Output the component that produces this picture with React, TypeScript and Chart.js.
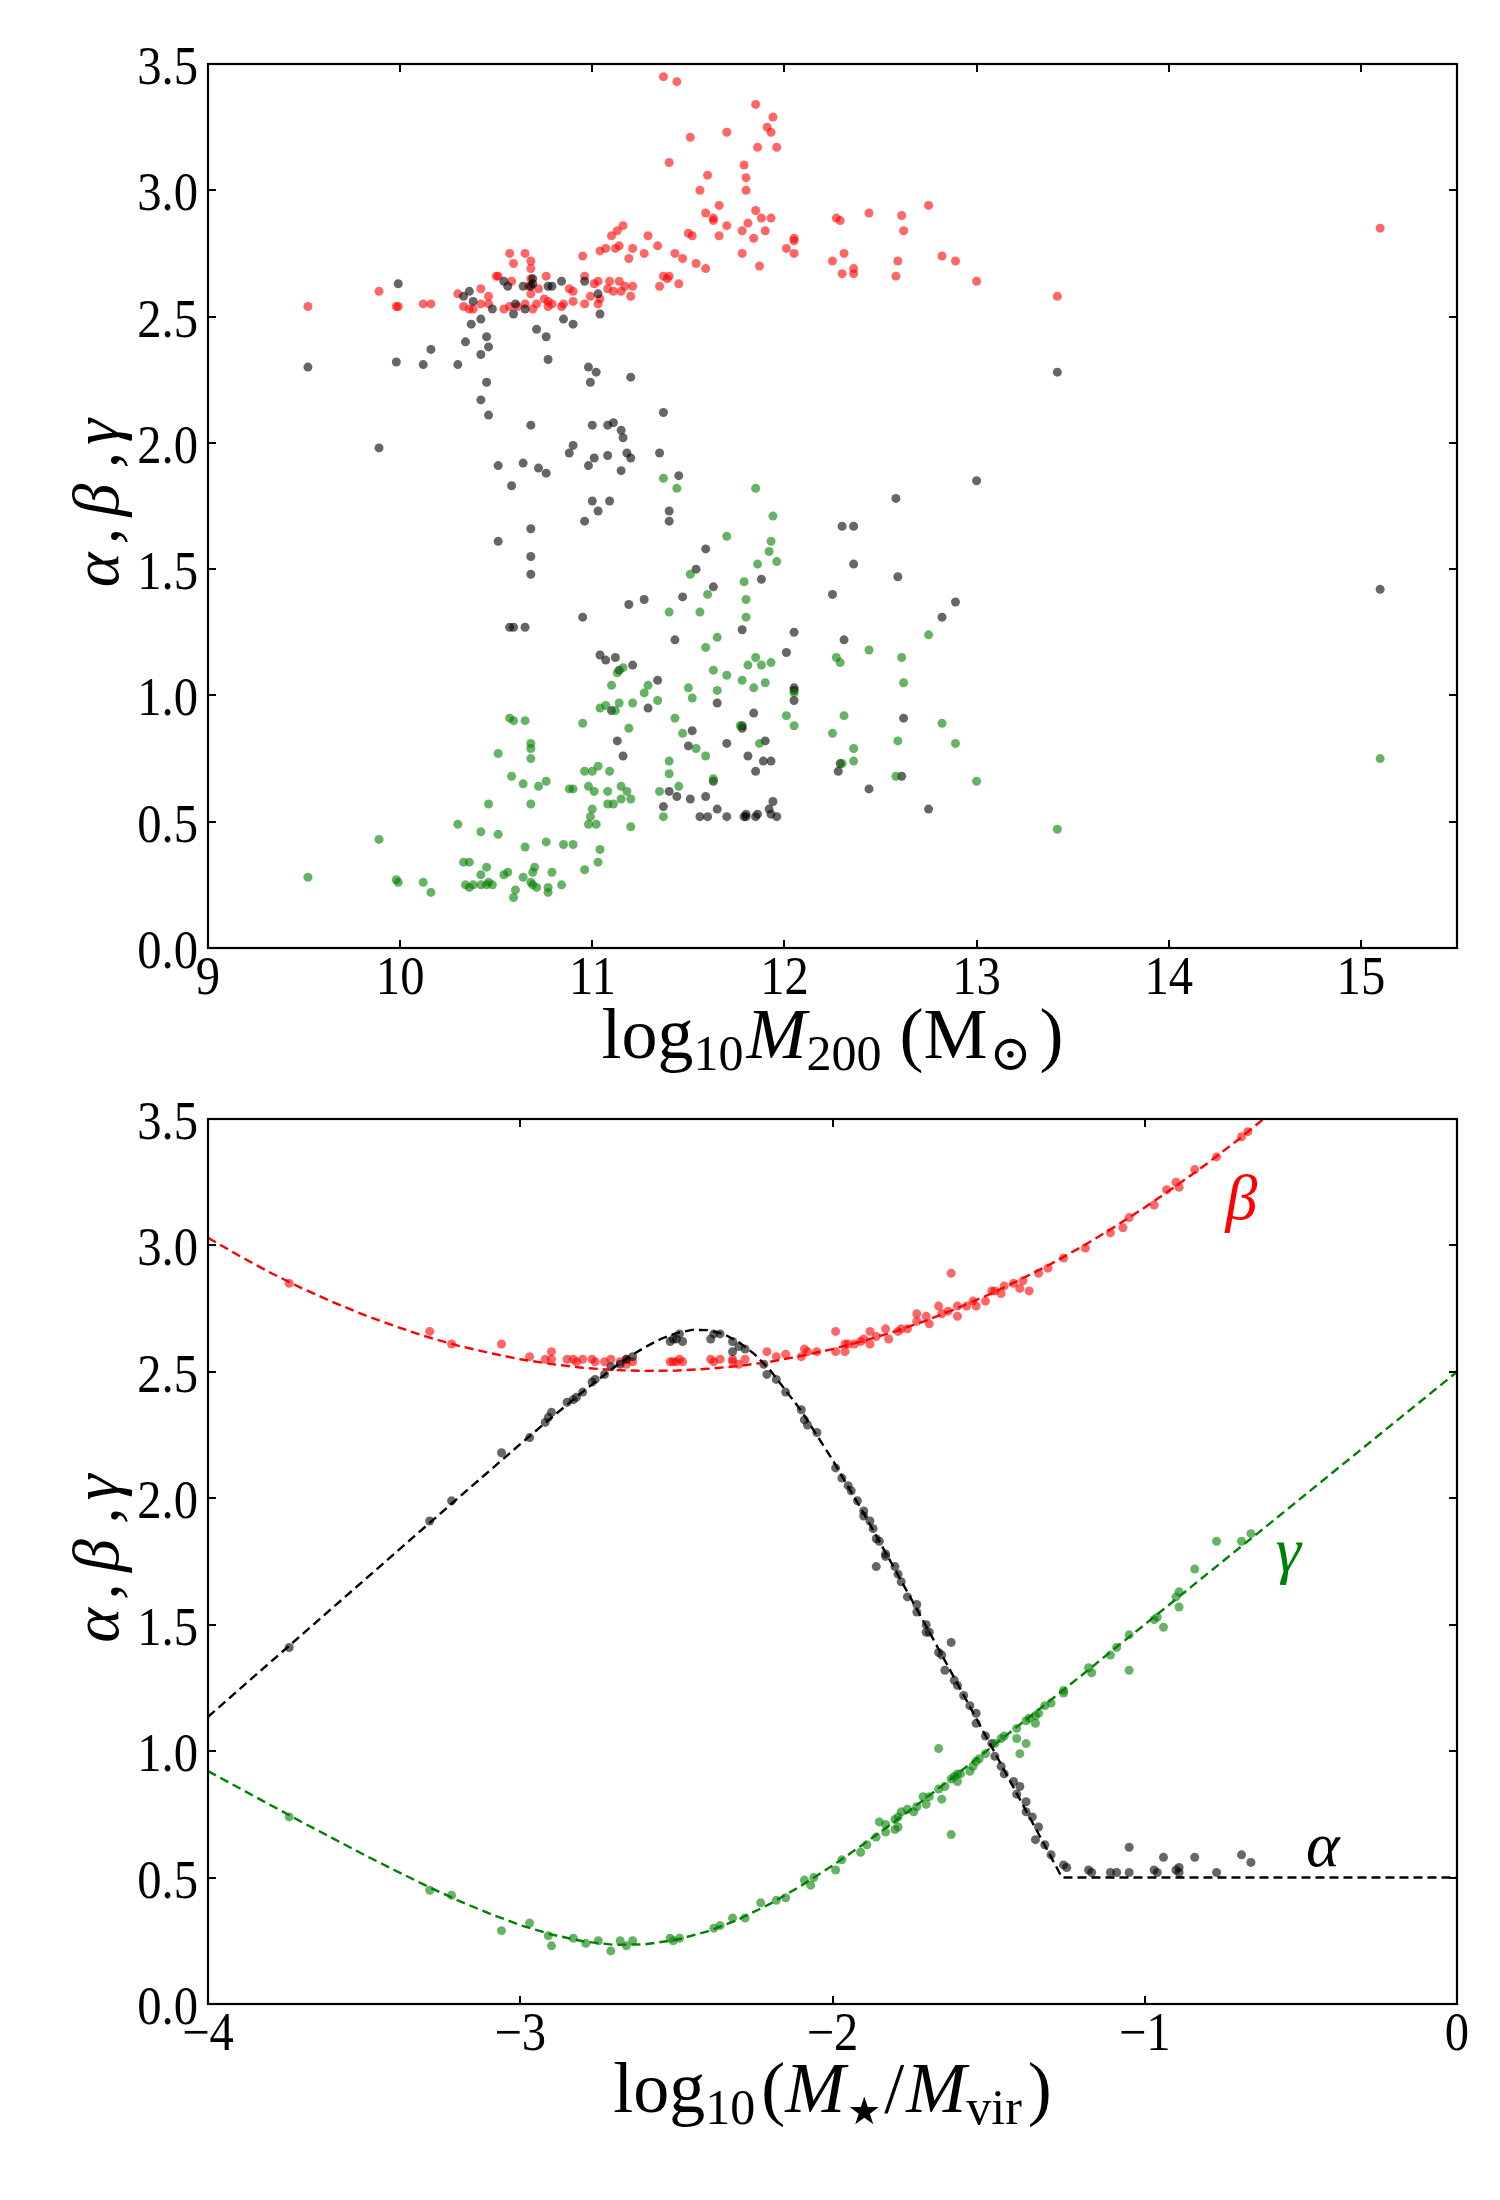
import React, { useEffect, useRef } from 'react';
import { Chart, registerables } from 'chart.js';

Chart.register(...registerables);

type Pt = [number, number];

// ---- axes ----
const haloTicks = [9, 10, 11, 12, 13, 14, 15];
const haloTickLabels = ['9', '10', '11', '12', '13', '14', '15'];
const ratioTicks = [-4, -3, -2, -1, 0];
const ratioTickLabels = ['\u22124', '\u22123', '\u22122', '\u22121', '0'];
const slopeTicks = [0, 0.5, 1, 1.5, 2, 2.5, 3, 3.5];
const slopeTickLabels = ['0.0', '0.5', '1.0', '1.5', '2.0', '2.5', '3.0', '3.5'];

// ---- top panel: slopes vs log10 M200 ----
const haloBeta: Pt[] = [
  [9.52, 2.54], [9.89, 2.60], [9.98, 2.54], [9.99, 2.54], [10.12, 2.55], [10.16, 2.55], [10.30, 2.59], [10.33, 2.54],
  [10.36, 2.53], [10.38, 2.53], [10.42, 2.55], [10.42, 2.61], [10.46, 2.55], [10.46, 2.58], [10.50, 2.66], [10.51, 2.66],
  [10.54, 2.53], [10.57, 2.54], [10.57, 2.75], [10.58, 2.64], [10.59, 2.71], [10.61, 2.54], [10.65, 2.55], [10.65, 2.75],
  [10.67, 2.62], [10.68, 2.72], [10.68, 2.69], [10.68, 2.65], [10.68, 2.59], [10.69, 2.53], [10.71, 2.55], [10.72, 2.61],
  [10.75, 2.57], [10.76, 2.66], [10.77, 2.56], [10.77, 2.54], [10.79, 2.55], [10.84, 2.54], [10.85, 2.55], [10.88, 2.61],
  [10.90, 2.60], [10.90, 2.56], [10.95, 2.74], [10.96, 2.66], [10.96, 2.55], [10.99, 2.58], [11.01, 2.63], [11.03, 2.64],
  [11.03, 2.55], [11.04, 2.57], [11.04, 2.76], [11.07, 2.77], [11.08, 2.61], [11.09, 2.64], [11.10, 2.82], [11.11, 2.60],
  [11.12, 2.77], [11.13, 2.84], [11.14, 2.64], [11.14, 2.78], [11.15, 2.60], [11.16, 2.86], [11.17, 2.62], [11.19, 2.73],
  [11.20, 2.58], [11.21, 2.62], [11.21, 2.77], [11.27, 2.75], [11.29, 2.82], [11.34, 2.78], [11.35, 2.62], [11.37, 2.66],
  [11.37, 3.45], [11.39, 2.65], [11.40, 2.66], [11.40, 3.11], [11.43, 2.75], [11.44, 3.43], [11.45, 2.63], [11.47, 2.73],
  [11.50, 2.83], [11.51, 3.21], [11.52, 2.82], [11.54, 2.71], [11.56, 3.00], [11.59, 2.91], [11.59, 2.69], [11.60, 3.06],
  [11.63, 2.89], [11.63, 2.88], [11.66, 2.94], [11.66, 2.82], [11.70, 3.23], [11.70, 2.86], [11.78, 2.84], [11.78, 2.75],
  [11.79, 3.10], [11.80, 3.05], [11.80, 3.00], [11.81, 2.87], [11.84, 2.81], [11.85, 3.34], [11.85, 2.92], [11.86, 3.17],
  [11.87, 2.70], [11.88, 2.89], [11.90, 2.84], [11.91, 3.25], [11.93, 3.23], [11.93, 2.89], [11.94, 3.29], [11.96, 3.17],
  [12.01, 2.77], [12.05, 2.81], [12.05, 2.80], [12.05, 2.75], [12.25, 2.72], [12.27, 2.89], [12.29, 2.88], [12.30, 2.67],
  [12.31, 2.75], [12.36, 2.69], [12.36, 2.67], [12.44, 2.91], [12.58, 2.66], [12.59, 2.72], [12.61, 2.90], [12.62, 2.84],
  [12.75, 2.94], [12.82, 2.74], [12.89, 2.72], [13.00, 2.64], [13.42, 2.58], [15.10, 2.85],
];

const haloAlpha: Pt[] = [
  [9.52, 2.30], [9.89, 1.98], [9.98, 2.32], [9.99, 2.63], [10.12, 2.31], [10.16, 2.37], [10.30, 2.31], [10.33, 2.58],
  [10.34, 2.40], [10.36, 2.60], [10.37, 2.47], [10.38, 2.56], [10.42, 2.49], [10.42, 2.35], [10.42, 2.17], [10.45, 2.42],
  [10.45, 2.24], [10.46, 2.38], [10.46, 2.11], [10.48, 2.53], [10.51, 1.91], [10.51, 1.61], [10.54, 2.64], [10.56, 2.62],
  [10.57, 1.27], [10.58, 1.83], [10.59, 2.51], [10.59, 1.27], [10.60, 2.55], [10.64, 2.62], [10.64, 1.92], [10.65, 2.53],
  [10.65, 1.27], [10.68, 2.62], [10.68, 2.07], [10.68, 1.66], [10.68, 1.55], [10.68, 1.48], [10.69, 2.65], [10.69, 2.63],
  [10.71, 2.45], [10.72, 1.90], [10.76, 2.42], [10.76, 1.88], [10.77, 2.62], [10.77, 2.33], [10.79, 2.62], [10.84, 2.64],
  [10.85, 2.49], [10.88, 1.96], [10.90, 2.47], [10.90, 1.99], [10.95, 1.31], [10.96, 2.64], [10.96, 1.69], [10.98, 2.30],
  [10.98, 1.91], [10.99, 2.24], [11.00, 2.07], [11.00, 1.77], [11.01, 1.94], [11.02, 2.28], [11.03, 2.59], [11.03, 1.73],
  [11.04, 2.51], [11.04, 1.16], [11.07, 1.14], [11.08, 2.07], [11.08, 1.95], [11.09, 1.77], [11.10, 0.94], [11.11, 2.08],
  [11.12, 1.15], [11.13, 0.82], [11.14, 1.10], [11.15, 2.05], [11.15, 1.89], [11.16, 2.02], [11.16, 0.76], [11.18, 1.96],
  [11.19, 1.36], [11.20, 2.26], [11.20, 1.94], [11.21, 1.12], [11.27, 1.38], [11.29, 0.95], [11.34, 1.06], [11.35, 1.96],
  [11.37, 2.12], [11.37, 0.56], [11.40, 1.73], [11.40, 1.69], [11.40, 0.62], [11.43, 1.22], [11.44, 0.60], [11.45, 1.87],
  [11.47, 1.39], [11.50, 0.80], [11.51, 0.59], [11.52, 0.86], [11.54, 1.50], [11.56, 0.52], [11.59, 1.58], [11.59, 0.60],
  [11.60, 0.52], [11.63, 1.43], [11.63, 0.66], [11.65, 0.97], [11.65, 0.55], [11.70, 0.81], [11.70, 0.52], [11.78, 1.26],
  [11.78, 0.88], [11.78, 0.87], [11.79, 0.52], [11.80, 0.53], [11.80, 0.52], [11.81, 0.76], [11.84, 0.93], [11.85, 0.70],
  [11.85, 0.52], [11.86, 0.53], [11.88, 1.46], [11.89, 0.74], [11.90, 0.82], [11.92, 0.55], [11.93, 0.74], [11.93, 0.53],
  [11.94, 0.58], [11.96, 0.52], [12.01, 1.17], [12.05, 1.25], [12.05, 1.03], [12.05, 1.02], [12.05, 0.98], [12.25, 1.40],
  [12.28, 0.70], [12.29, 0.73], [12.30, 1.67], [12.31, 1.22], [12.36, 1.67], [12.36, 1.52], [12.44, 0.63], [12.58, 1.78],
  [12.59, 1.47], [12.61, 0.68], [12.62, 0.91], [12.75, 0.55], [12.82, 1.31], [12.89, 1.37], [13.00, 1.85], [13.42, 2.28],
  [15.10, 1.42],
];

const haloGamma: Pt[] = [
  [9.52, 0.28], [9.89, 0.43], [9.98, 0.27], [9.99, 0.26], [10.12, 0.26], [10.16, 0.22], [10.30, 0.49], [10.33, 0.34],
  [10.34, 0.25], [10.36, 0.34], [10.36, 0.24], [10.38, 0.25], [10.42, 0.46], [10.42, 0.29], [10.42, 0.25], [10.45, 0.32],
  [10.45, 0.25], [10.46, 0.57], [10.46, 0.26], [10.48, 0.25], [10.51, 0.77], [10.51, 0.45], [10.54, 0.29], [10.56, 0.30],
  [10.57, 0.91], [10.58, 0.68], [10.59, 0.90], [10.59, 0.20], [10.60, 0.23], [10.64, 0.65], [10.64, 0.28], [10.65, 0.90],
  [10.65, 0.40], [10.68, 0.81], [10.68, 0.79], [10.68, 0.75], [10.68, 0.57], [10.68, 0.26], [10.69, 0.30], [10.69, 0.25],
  [10.70, 0.32], [10.71, 0.24], [10.72, 0.64], [10.76, 0.66], [10.76, 0.42], [10.77, 0.24], [10.77, 0.22], [10.79, 0.30],
  [10.84, 0.25], [10.85, 0.41], [10.88, 0.63], [10.90, 0.63], [10.90, 0.41], [10.95, 0.89], [10.96, 0.70], [10.96, 0.31],
  [10.98, 0.64], [10.98, 0.49], [10.99, 0.52], [11.00, 0.70], [11.00, 0.55], [11.01, 0.62], [11.02, 0.49], [11.03, 0.72],
  [11.03, 0.34], [11.04, 0.95], [11.04, 0.39], [11.07, 0.96], [11.08, 0.62], [11.08, 0.57], [11.09, 0.70], [11.10, 1.04],
  [11.11, 0.57], [11.12, 0.94], [11.13, 1.09], [11.14, 0.97], [11.15, 0.64], [11.15, 0.59], [11.16, 1.11], [11.18, 0.62],
  [11.19, 0.87], [11.20, 0.59], [11.20, 0.48], [11.21, 0.97], [11.27, 1.01], [11.29, 1.04], [11.34, 0.98], [11.35, 0.62],
  [11.37, 1.86], [11.37, 0.52], [11.40, 1.33], [11.40, 0.74], [11.40, 0.69], [11.43, 0.91], [11.44, 1.82], [11.45, 0.64],
  [11.47, 0.85], [11.50, 1.03], [11.51, 1.48], [11.52, 0.99], [11.54, 0.79], [11.56, 1.33], [11.59, 1.19], [11.59, 0.76],
  [11.60, 1.40], [11.63, 1.10], [11.63, 0.67], [11.65, 1.23], [11.65, 1.02], [11.70, 1.63], [11.70, 1.08], [11.77, 0.88],
  [11.78, 1.06], [11.79, 1.45], [11.80, 1.38], [11.80, 1.31], [11.81, 1.12], [11.84, 1.03], [11.85, 1.82], [11.85, 1.15],
  [11.86, 1.52], [11.87, 0.81], [11.88, 1.12], [11.90, 1.05], [11.92, 1.57], [11.93, 1.61], [11.93, 1.13], [11.94, 1.71],
  [11.96, 1.53], [12.01, 0.92], [12.05, 1.01], [12.05, 0.88], [12.25, 0.85], [12.27, 1.15], [12.29, 1.13], [12.30, 0.73],
  [12.31, 0.92], [12.36, 0.79], [12.36, 0.74], [12.44, 1.18], [12.58, 0.68], [12.59, 0.82], [12.61, 1.15], [12.62, 1.05],
  [12.75, 1.24], [12.82, 0.89], [12.89, 0.81], [13.00, 0.66], [13.42, 0.47], [15.10, 0.75],
];

// ---- bottom panel: slopes vs log10(M*/Mvir) ----
const ratioBeta: Pt[] = [
  [-3.74, 2.85], [-3.29, 2.66], [-3.22, 2.61], [-3.06, 2.61], [-2.97, 2.56], [-2.92, 2.55], [-2.90, 2.58], [-2.90, 2.55],
  [-2.85, 2.55], [-2.83, 2.55], [-2.82, 2.54], [-2.80, 2.55], [-2.77, 2.55], [-2.76, 2.54], [-2.73, 2.54], [-2.71, 2.55],
  [-2.68, 2.54], [-2.66, 2.55], [-2.66, 2.53], [-2.64, 2.54], [-2.52, 2.54], [-2.51, 2.54], [-2.50, 2.54], [-2.49, 2.55],
  [-2.48, 2.54], [-2.39, 2.55], [-2.38, 2.54], [-2.36, 2.55], [-2.32, 2.55], [-2.32, 2.54], [-2.30, 2.53], [-2.28, 2.55],
  [-2.21, 2.58], [-2.18, 2.56], [-2.15, 2.57], [-2.10, 2.56], [-2.09, 2.59], [-2.08, 2.58], [-2.05, 2.58], [-1.99, 2.66],
  [-1.99, 2.58], [-1.96, 2.61], [-1.96, 2.58], [-1.95, 2.61], [-1.93, 2.61], [-1.91, 2.62], [-1.90, 2.63], [-1.88, 2.66],
  [-1.88, 2.61], [-1.86, 2.64], [-1.83, 2.67], [-1.82, 2.63], [-1.79, 2.66], [-1.78, 2.67], [-1.76, 2.67], [-1.73, 2.73],
  [-1.73, 2.70], [-1.70, 2.72], [-1.69, 2.69], [-1.66, 2.76], [-1.65, 2.73], [-1.63, 2.74], [-1.62, 2.89], [-1.60, 2.72],
  [-1.60, 2.76], [-1.57, 2.76], [-1.55, 2.78], [-1.54, 2.76], [-1.51, 2.78], [-1.49, 2.82], [-1.46, 2.81], [-1.45, 2.84],
  [-1.48, 2.82], [-1.42, 2.85], [-1.40, 2.83], [-1.39, 2.86], [-1.37, 2.82], [-1.34, 2.89], [-1.31, 2.91], [-1.26, 2.95],
  [-1.19, 2.99], [-1.11, 3.05], [-1.07, 3.07], [-1.05, 3.11], [-0.97, 3.16], [-0.93, 3.22], [-0.90, 3.25], [-0.89, 3.23],
  [-0.84, 3.30], [-0.77, 3.35], [-0.69, 3.43], [-0.67, 3.45],
];

const ratioAlpha: Pt[] = [
  [-3.74, 1.41], [-3.29, 1.91], [-3.22, 1.99], [-3.06, 2.18], [-2.97, 2.24], [-2.92, 2.30], [-2.91, 2.32], [-2.90, 2.34],
  [-2.85, 2.38], [-2.83, 2.39], [-2.82, 2.40], [-2.80, 2.42], [-2.77, 2.46], [-2.76, 2.47], [-2.73, 2.49], [-2.71, 2.52],
  [-2.68, 2.53], [-2.66, 2.55], [-2.64, 2.56], [-2.52, 2.62], [-2.51, 2.63], [-2.50, 2.63], [-2.49, 2.65], [-2.48, 2.62],
  [-2.39, 2.63], [-2.38, 2.65], [-2.36, 2.65], [-2.32, 2.62], [-2.32, 2.58], [-2.30, 2.60], [-2.28, 2.59], [-2.22, 2.53],
  [-2.21, 2.49], [-2.18, 2.47], [-2.15, 2.42], [-2.10, 2.35], [-2.09, 2.31], [-2.08, 2.29], [-2.05, 2.26], [-1.99, 2.12],
  [-1.97, 2.08], [-1.95, 2.05], [-1.94, 2.03], [-1.92, 1.99], [-1.90, 1.95], [-1.90, 1.93], [-1.88, 1.91], [-1.87, 1.88],
  [-1.86, 1.84], [-1.83, 1.78], [-1.86, 1.73], [-1.80, 1.73], [-1.85, 1.83], [-1.83, 1.77], [-1.79, 1.70], [-1.78, 1.67],
  [-1.76, 1.61], [-1.73, 1.58], [-1.73, 1.55], [-1.70, 1.50], [-1.70, 1.47], [-1.69, 1.47], [-1.62, 1.43], [-1.66, 1.39],
  [-1.65, 1.38], [-1.64, 1.32], [-1.61, 1.28], [-1.60, 1.26], [-1.58, 1.22], [-1.56, 1.18], [-1.54, 1.15], [-1.54, 1.11],
  [-1.51, 1.06], [-1.49, 1.03], [-1.48, 0.98], [-1.46, 0.94], [-1.45, 0.91], [-1.42, 0.88], [-1.40, 0.86], [-1.41, 0.83],
  [-1.38, 0.80], [-1.38, 0.76], [-1.36, 0.74], [-1.34, 0.70], [-1.35, 0.65], [-1.32, 0.63], [-1.30, 0.59], [-1.26, 0.55],
  [-1.25, 0.54], [-1.18, 0.53], [-1.17, 0.52], [-1.11, 0.52], [-1.09, 0.52], [-1.05, 0.62], [-1.05, 0.52], [-0.97, 0.53],
  [-0.96, 0.52], [-0.94, 0.58], [-0.90, 0.53], [-0.89, 0.54], [-0.89, 0.52], [-0.84, 0.58], [-0.77, 0.52], [-0.69, 0.59],
  [-0.66, 0.56],
];

const ratioGamma: Pt[] = [
  [-3.74, 0.74], [-3.29, 0.45], [-3.22, 0.43], [-3.06, 0.29], [-2.97, 0.32], [-2.91, 0.27], [-2.90, 0.23], [-2.83, 0.26],
  [-2.79, 0.24], [-2.75, 0.25], [-2.71, 0.21], [-2.68, 0.25], [-2.64, 0.25], [-2.66, 0.23], [-2.52, 0.26], [-2.49, 0.26],
  [-2.51, 0.25], [-2.38, 0.30], [-2.36, 0.31], [-2.32, 0.34], [-2.28, 0.34], [-2.23, 0.40], [-2.18, 0.41], [-2.15, 0.42],
  [-2.09, 0.49], [-2.06, 0.50], [-2.07, 0.47], [-1.99, 0.53], [-1.97, 0.57], [-1.91, 0.60], [-1.89, 0.63], [-1.86, 0.66],
  [-1.85, 0.72], [-1.83, 0.68], [-1.83, 0.71], [-1.80, 0.69], [-1.79, 0.70], [-1.80, 0.73], [-1.79, 0.74], [-1.78, 0.76],
  [-1.76, 0.77], [-1.74, 0.76], [-1.73, 0.78], [-1.70, 0.79], [-1.71, 0.82], [-1.69, 0.82], [-1.65, 0.81], [-1.66, 0.85],
  [-1.64, 0.86], [-1.60, 0.88], [-1.62, 0.89], [-1.61, 0.90], [-1.60, 0.91], [-1.59, 0.91], [-1.66, 1.01], [-1.62, 0.67],
  [-1.56, 0.92], [-1.55, 0.94], [-1.54, 0.96], [-1.53, 0.97], [-1.51, 0.99], [-1.48, 1.03], [-1.46, 1.05], [-1.45, 1.06],
  [-1.40, 0.99], [-1.38, 1.03], [-1.41, 1.05], [-1.41, 1.09], [-1.38, 1.12], [-1.37, 1.13], [-1.35, 1.14], [-1.35, 1.11],
  [-1.34, 1.15], [-1.32, 1.18], [-1.30, 1.19], [-1.26, 1.23], [-1.26, 1.24], [-1.17, 1.31], [-1.18, 1.33], [-1.05, 1.32],
  [-1.11, 1.38], [-1.09, 1.41], [-1.05, 1.46], [-0.94, 1.49], [-0.97, 1.52], [-0.96, 1.53], [-0.89, 1.57], [-0.90, 1.61],
  [-0.89, 1.63], [-0.84, 1.72], [-0.77, 1.83], [-0.69, 1.83], [-0.66, 1.86],
];

// fitted relations
const fitAlpha: Pt[] = [
  [-4.0, 1.136], [-3.9, 1.244], [-3.8, 1.352], [-3.7, 1.46], [-3.6, 1.568], [-3.5, 1.676], [-3.4, 1.784], [-3.3, 1.892],
  [-3.2, 2.0], [-3.1, 2.107], [-3.0, 2.214], [-2.9, 2.319], [-2.8, 2.421], [-2.7, 2.517], [-2.65, 2.56], [-2.6, 2.598],
  [-2.55, 2.63], [-2.5, 2.653], [-2.45, 2.666], [-2.4, 2.665], [-2.35, 2.65], [-2.3, 2.618], [-2.25, 2.57], [-2.2, 2.507],
  [-2.1, 2.346], [-2.0, 2.152], [-1.9, 1.94], [-1.8, 1.719], [-1.7, 1.494], [-1.6, 1.267], [-1.5, 1.039], [-1.4, 0.81],
  [-1.3, 0.581], [-1.265, 0.5], [0, 0.5],
];
const fitBeta: Pt[] = [
  [-4.0, 3.03], [-3.9, 2.959], [-3.8, 2.892], [-3.7, 2.831], [-3.6, 2.776], [-3.5, 2.725], [-3.4, 2.68], [-3.3, 2.639],
  [-3.2, 2.604], [-3.1, 2.575], [-3.0, 2.55], [-2.9, 2.531], [-2.8, 2.516], [-2.7, 2.507], [-2.6, 2.504], [-2.5, 2.505],
  [-2.4, 2.512], [-2.3, 2.523], [-2.2, 2.54], [-2.1, 2.563], [-2.0, 2.59], [-1.9, 2.623], [-1.8, 2.66], [-1.7, 2.703],
  [-1.6, 2.752], [-1.5, 2.805], [-1.4, 2.864], [-1.3, 2.927], [-1.2, 2.996], [-1.1, 3.071], [-1.0, 3.15], [-0.9, 3.235],
  [-0.8, 3.324], [-0.7, 3.419], [-0.6, 3.52], [-0.5, 3.625],
];
const fitGamma: Pt[] = [
  [-4.0, 0.921], [-3.9, 0.854], [-3.8, 0.787], [-3.7, 0.72], [-3.6, 0.655], [-3.5, 0.59], [-3.4, 0.528], [-3.3, 0.467],
  [-3.2, 0.41], [-3.1, 0.358], [-3.0, 0.312], [-2.9, 0.275], [-2.8, 0.248], [-2.7, 0.234], [-2.6, 0.236], [-2.5, 0.254],
  [-2.4, 0.287], [-2.3, 0.335], [-2.2, 0.396], [-2.1, 0.468], [-2.0, 0.547], [-1.9, 0.633], [-1.8, 0.722], [-1.7, 0.815],
  [-1.6, 0.91], [-1.5, 1.007], [-1.4, 1.105], [-1.3, 1.203], [-1.2, 1.302], [-1.1, 1.402], [-1.0, 1.501], [-0.8, 1.701],
  [-0.6, 1.9], [-0.4, 2.1], [-0.2, 2.3], [0, 2.5],
];

const SERIF = '"Liberation Serif", "DejaVu Serif", "DejaVu Sans", serif';
const RED = 'rgba(255,0,0,0.6)';
const BLACK = 'rgba(0,0,0,0.6)';
const GREEN = 'rgba(0,128,0,0.6)';

type Run = { t: string; it?: boolean; sub?: boolean; gap?: number; k?: number };
type Note = { t: string; x: number; y: number; color: string };

interface FrameOpts {
  xTicks: number[];
  xLabels: string[];
  xTitle: Run[];
  xTitleBase: number;
  notes?: Note[];
}

// y title glyphs and their offsets along the rotated baseline (from the axis centre)
const yTitleGlyphs: [string, number][] = [
  ['\u03b1', -64], [',', -30], ['\u03b2', 6], [',', 46], ['\u03b3', 74],
];

function squeezed(ctx: CanvasRenderingContext2D, text: string, x: number, y: number, align: CanvasTextAlign) {
  ctx.save();
  ctx.translate(x, y);
  ctx.scale(0.9, 1);
  ctx.textAlign = align;
  ctx.fillText(text, 0, 0);
  ctx.restore();
}

function drawRuns(ctx: CanvasRenderingContext2D, runs: Run[], cx: number, base: number, size: number) {
  const fontOf = (r: Run) => `${r.it ? 'italic ' : ''}${Math.round(size * (r.sub ? 0.7 : 1) * (r.k ?? 1))}px ${SERIF}`;
  let total = 0;
  const widths = runs.map(r => {
    ctx.font = fontOf(r);
    const w = ctx.measureText(r.t).width;
    total += w + (r.gap ?? 0);
    return w;
  });
  let x = cx - total / 2;
  ctx.textAlign = 'left';
  ctx.textBaseline = 'alphabetic';
  runs.forEach((r, i) => {
    x += r.gap ?? 0;
    ctx.font = fontOf(r);
    ctx.fillText(r.t, x, base + (r.sub ? size * 0.17 : 0));
    x += widths[i];
  });
}

function framePlugin(o: FrameOpts) {
  return {
    id: 'frame',
    afterDraw(chart: Chart) {
      const { ctx, chartArea: a } = chart;
      const xs = chart.scales.x;
      const ys = chart.scales.y;
      ctx.save();
      ctx.strokeStyle = '#000';
      ctx.lineWidth = 2.2;
      ctx.strokeRect(a.left, a.top, a.right - a.left, a.bottom - a.top);

      // inward ticks on all four sides
      ctx.lineWidth = 2;
      ctx.beginPath();
      o.xTicks.forEach(v => {
        const p = Math.round(xs.getPixelForValue(v));
        ctx.moveTo(p, a.bottom); ctx.lineTo(p, a.bottom - 8);
        ctx.moveTo(p, a.top); ctx.lineTo(p, a.top + 8);
      });
      slopeTicks.forEach(v => {
        const p = Math.round(ys.getPixelForValue(v));
        ctx.moveTo(a.left, p); ctx.lineTo(a.left + 8, p);
        ctx.moveTo(a.right, p); ctx.lineTo(a.right - 8, p);
      });
      ctx.stroke();

      ctx.fillStyle = '#000';
      ctx.font = `54px ${SERIF}`;
      ctx.textBaseline = 'alphabetic';
      o.xTicks.forEach((v, i) => squeezed(ctx, o.xLabels[i], xs.getPixelForValue(v), a.bottom + 46, 'center'));
      slopeTicks.forEach((v, i) => squeezed(ctx, slopeTickLabels[i], a.left - 10, ys.getPixelForValue(v) + 20, 'right'));

      drawRuns(ctx, o.xTitle, (a.left + a.right) / 2, o.xTitleBase, 72);

      // rotated y title, glyph by glyph
      ctx.save();
      ctx.translate(118, (a.top + a.bottom) / 2);
      ctx.rotate(-Math.PI / 2);
      ctx.font = `italic 66px ${SERIF}`;
      ctx.textAlign = 'center';
      yTitleGlyphs.forEach(([g, off]) => ctx.fillText(g, off, 0));
      ctx.restore();

      (o.notes ?? []).forEach(n => {
        ctx.font = `italic 64px ${SERIF}`;
        ctx.fillStyle = n.color;
        ctx.textAlign = 'center';
        ctx.fillText(n.t, xs.getPixelForValue(n.x), ys.getPixelForValue(n.y));
      });
      ctx.restore();
    },
  };
}

const toXY = (pts: Pt[]) => pts.map(([x, y]) => ({ x, y }));

const dots = (pts: Pt[], color: string) => ({
  data: toXY(pts),
  pointRadius: 4.5,
  pointBackgroundColor: color,
  pointBorderWidth: 0,
  pointHoverRadius: 4.5,
  showLine: false,
});

const dashed = (pts: Pt[], color: string) => ({
  data: toXY(pts),
  showLine: true,
  pointRadius: 0,
  borderColor: color,
  borderWidth: 2.4,
  borderDash: [9, 5],
  fill: false,
  tension: 0,
});

function baseOptions(xMin: number, xMax: number, padding: Record<string, number>) {
  return {
    animation: false,
    responsive: false,
    layout: { padding },
    plugins: { legend: { display: false }, tooltip: { enabled: false } },
    scales: {
      x: { type: 'linear', min: xMin, max: xMax, display: false },
      y: { type: 'linear', min: 0, max: 3.5, display: false },
    },
  };
}

function Panel({ build }: { build: () => any }) {
  const canvasRef = useRef<HTMLCanvasElement>(null);
  useEffect(() => {
    if (!canvasRef.current) return;
    const chart = new Chart(canvasRef.current, build());
    return () => chart.destroy();
  }, [build]);
  return <canvas ref={canvasRef} width={1500} height={1100} style={{ display: 'block', width: 1500, height: 1100 }} />;
}

const buildHalo = () => ({
  type: 'scatter',
  data: {
    datasets: [dots(haloGamma, GREEN), dots(haloAlpha, BLACK), dots(haloBeta, RED)],
  },
  options: baseOptions(9, 15.5, { left: 208, top: 64, right: 43, bottom: 152 }),
  plugins: [
    framePlugin({
      xTicks: haloTicks,
      xLabels: haloTickLabels,
      xTitleBase: 1058,
      xTitle: [
        { t: 'log' }, { t: '10', sub: true }, { t: 'M', it: true, gap: 3 }, { t: '200', sub: true },
        { t: ' (M' }, { t: '\u2299', sub: true, gap: 2 }, { t: ')', gap: 8 },
      ],
    }),
  ],
});

const buildRatio = () => ({
  type: 'scatter',
  data: {
    datasets: [
      dashed(fitAlpha, '#000000'), dashed(fitBeta, '#ff0000'), dashed(fitGamma, '#008000'),
      dots(ratioGamma, GREEN), dots(ratioAlpha, BLACK), dots(ratioBeta, RED),
    ],
  },
  options: baseOptions(-4, 0, { left: 208, top: 19, right: 43, bottom: 196 }),
  plugins: [
    framePlugin({
      xTicks: ratioTicks,
      xLabels: ratioTickLabels,
      xTitleBase: 1012,
      xTitle: [
        { t: 'log' }, { t: '10', sub: true }, { t: '(', gap: 6 }, { t: 'M', it: true }, { t: '\u2605', sub: true, k: 0.75, gap: 2 },
        { t: '/', gap: 3 }, { t: 'M', it: true, gap: 2 }, { t: 'vir', sub: true }, { t: ')', gap: 6 },
      ],
      notes: [
        { t: '\u03b2', x: -0.69, y: 3.105, color: '#ff0000' },
        { t: '\u03b3', x: -0.54, y: 1.712, color: '#008000' },
        { t: '\u03b1', x: -0.43, y: 0.546, color: '#000000' },
      ],
    }),
  ],
});

export default function App() {
  return (
    <div style={{ position: 'absolute', left: 0, top: 0, width: 1500, height: 2200, background: '#ffffff' }}>
      <Panel build={buildHalo} />
      <Panel build={buildRatio} />
    </div>
  );
}
